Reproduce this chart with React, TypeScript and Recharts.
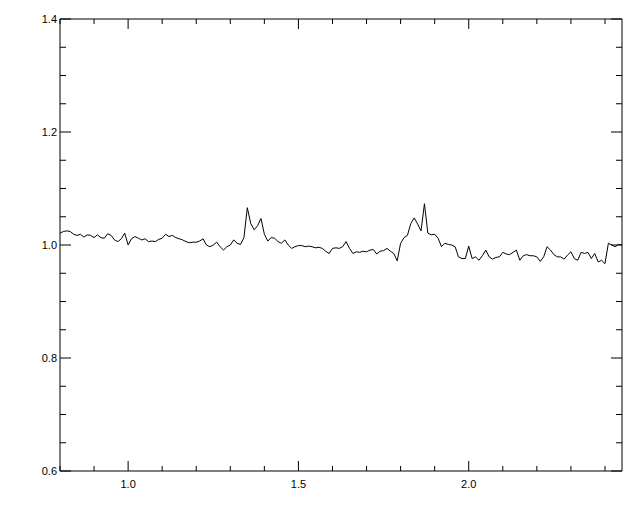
import { Line, LineChart, XAxis, YAxis } from "recharts";

const wavelength = [
  0.8, 0.81, 0.82, 0.83, 0.84, 0.85, 0.86, 0.87, 0.88, 0.89,
  0.9, 0.91, 0.92, 0.93, 0.94, 0.95, 0.96, 0.97, 0.98, 0.99,
  1.0, 1.01, 1.02, 1.03, 1.04, 1.05, 1.06, 1.07, 1.08, 1.09,
  1.1, 1.11, 1.12, 1.13, 1.14, 1.15, 1.16, 1.17, 1.18, 1.19,
  1.2, 1.21, 1.22, 1.23, 1.24, 1.25, 1.26, 1.27, 1.28, 1.29,
  1.3, 1.31, 1.32, 1.33, 1.34, 1.35, 1.36, 1.37, 1.38, 1.39,
  1.4, 1.41, 1.42, 1.43, 1.44, 1.45, 1.46, 1.47, 1.48, 1.49,
  1.5, 1.51, 1.52, 1.53, 1.54, 1.55, 1.56, 1.57, 1.58, 1.59,
  1.6, 1.61, 1.62, 1.63, 1.64, 1.65, 1.66, 1.67, 1.68, 1.69,
  1.7, 1.71, 1.72, 1.73, 1.74, 1.75, 1.76, 1.77, 1.78, 1.79,
  1.8, 1.81, 1.82, 1.83, 1.84, 1.85, 1.86, 1.87, 1.88, 1.89,
  1.9, 1.91, 1.92, 1.93, 1.94, 1.95, 1.96, 1.97, 1.98, 1.99,
  2.0, 2.01, 2.02, 2.03, 2.04, 2.05, 2.06, 2.07, 2.08, 2.09,
  2.1, 2.11, 2.12, 2.13, 2.14, 2.15, 2.16, 2.17, 2.18, 2.19,
  2.2, 2.21, 2.22, 2.23, 2.24, 2.25, 2.26, 2.27, 2.28, 2.29,
  2.3, 2.31, 2.32, 2.33, 2.34, 2.35, 2.36, 2.37, 2.38, 2.39,
  2.4, 2.41, 2.42, 2.43, 2.44, 2.45,
];

const flux = [
  1.021, 1.024, 1.025, 1.024, 1.019, 1.017, 1.019, 1.014, 1.018, 1.017,
  1.013, 1.018, 1.013, 1.012, 1.02, 1.017, 1.009, 1.006, 1.011, 1.021,
  1.0, 1.011, 1.015, 1.012, 1.009, 1.011, 1.006, 1.007, 1.006, 1.01,
  1.012, 1.019, 1.015, 1.017, 1.013, 1.011, 1.009, 1.006, 1.004, 1.005,
  1.005, 1.007, 1.011, 1.0, 0.997, 1.0, 1.005, 0.997, 0.991, 0.997,
  1.0, 1.009, 1.003, 1.001, 1.013, 1.066, 1.038, 1.027, 1.034, 1.047,
  1.019, 1.007, 1.013, 1.012, 1.006, 1.003, 1.009, 1.0, 0.994, 0.997,
  0.999, 0.999, 0.997, 0.998, 0.997, 0.995, 0.996, 0.994, 0.989, 0.985,
  0.994, 0.995, 0.994, 0.997, 1.006, 0.994, 0.985, 0.988, 0.987, 0.989,
  0.988, 0.991, 0.992, 0.984, 0.989, 0.99, 0.994, 0.989, 0.985, 0.972,
  1.003, 1.013, 1.017, 1.038, 1.048, 1.037, 1.025, 1.073, 1.021, 1.018,
  1.019, 1.012, 0.997, 1.003, 1.001, 1.0, 0.997, 0.979, 0.976, 0.976,
  0.998, 0.976, 0.979, 0.973, 0.981, 0.991, 0.979, 0.975, 0.978, 0.979,
  0.987, 0.984, 0.983, 0.987, 0.991, 0.973, 0.981, 0.983, 0.981, 0.981,
  0.979, 0.971, 0.979, 0.997, 0.991, 0.983, 0.979, 0.979, 0.975, 0.982,
  0.988, 0.976, 0.973, 0.987, 0.985, 0.987, 0.976, 0.985, 0.97, 0.973,
  0.967, 1.003, 1.0, 0.997, 1.001, 1.0,
];

const xTicks = [0.8, 0.9, 1.0, 1.1, 1.2, 1.3, 1.4, 1.5, 1.6, 1.7, 1.8, 1.9, 2.0, 2.1, 2.2, 2.3, 2.4];
const xLabels = [1.0, 1.5, 2.0];
const yTicks = [0.6, 0.65, 0.7, 0.75, 0.8, 0.85, 0.9, 0.95, 1.0, 1.05, 1.1, 1.15, 1.2, 1.25, 1.3, 1.35, 1.4];
const yLabels = [0.6, 0.8, 1.0, 1.2, 1.4];

const data = wavelength.map((w, i) => ({ w, f: flux[i] }));

const font = { fontFamily: "'Liberation Sans', Arial, sans-serif", fontSize: 11, fill: "#000" };

const isIn = (list: number[], v: number) => list.some((l) => Math.abs(l - v) < 1e-6);

const BottomTick = (props: any) => {
  const { x, y, payload } = props;
  const major = isIn(xLabels, payload.value);
  return (
    <g>
      <line x1={x} y1={y} x2={x} y2={y - (major ? 10 : 5)} stroke="#000" />
      {major && (
        <text x={x} y={y + 17} textAnchor="middle" {...font}>
          {payload.value.toFixed(1)}
        </text>
      )}
    </g>
  );
};

const TopTick = (props: any) => {
  const { x, y, payload } = props;
  const major = isIn(xLabels, payload.value);
  return <line x1={x} y1={y} x2={x} y2={y + (major ? 10 : 5)} stroke="#000" />;
};

const LeftTick = (props: any) => {
  const { x, y, payload } = props;
  const major = isIn(yLabels, payload.value);
  return (
    <g>
      <line x1={x} y1={y} x2={x + (major ? 11 : 6)} y2={y} stroke="#000" />
      {major && (
        <text x={x - 3} y={y + 4} textAnchor="end" {...font}>
          {payload.value.toFixed(1)}
        </text>
      )}
    </g>
  );
};

const RightTick = (props: any) => {
  const { x, y, payload } = props;
  const major = isIn(yLabels, payload.value);
  return <line x1={x} y1={y} x2={x - (major ? 11 : 6)} y2={y} stroke="#000" />;
};

export default function App() {
  return (
    <div style={{ position: "absolute", left: 0, top: 0, background: "#fff" }}>
      <LineChart width={640} height={512} data={data} margin={{ top: 18, right: 17, bottom: 0, left: 0 }}>
        <XAxis
          xAxisId="b"
          type="number"
          dataKey="w"
          domain={[0.8, 2.45]}
          ticks={xTicks}
          interval={0}
          height={41}
          tickSize={0}
          tickMargin={0}
          tickLine={false}
          axisLine={{ stroke: "#000" }}
          tick={<BottomTick />}
          allowDataOverflow
        />
        <XAxis
          xAxisId="t"
          orientation="top"
          type="number"
          dataKey="w"
          domain={[0.8, 2.45]}
          ticks={xTicks}
          interval={0}
          height={1}
          tickSize={0}
          tickMargin={0}
          tickLine={false}
          axisLine={{ stroke: "#000" }}
          tick={<TopTick />}
          allowDataOverflow
        />
        <YAxis
          yAxisId="l"
          type="number"
          domain={[0.6, 1.4]}
          ticks={yTicks}
          interval={0}
          width={60}
          tickSize={0}
          tickMargin={0}
          tickLine={false}
          axisLine={{ stroke: "#000" }}
          tick={<LeftTick />}
          allowDataOverflow
        />
        <YAxis
          yAxisId="r"
          orientation="right"
          type="number"
          domain={[0.6, 1.4]}
          ticks={yTicks}
          interval={0}
          width={1}
          tickSize={0}
          tickMargin={0}
          tickLine={false}
          axisLine={{ stroke: "#000" }}
          tick={<RightTick />}
          allowDataOverflow
        />
        {/* invisible series so the top and right frame axes get drawn */}
        <Line
          xAxisId="t"
          yAxisId="r"
          type="linear"
          dataKey="f"
          stroke="none"
          dot={false}
          activeDot={false}
          isAnimationActive={false}
        />
        <Line
          xAxisId="b"
          yAxisId="l"
          type="linear"
          dataKey="f"
          stroke="#000"
          strokeWidth={1}
          dot={false}
          isAnimationActive={false}
        />
      </LineChart>
    </div>
  );
}
